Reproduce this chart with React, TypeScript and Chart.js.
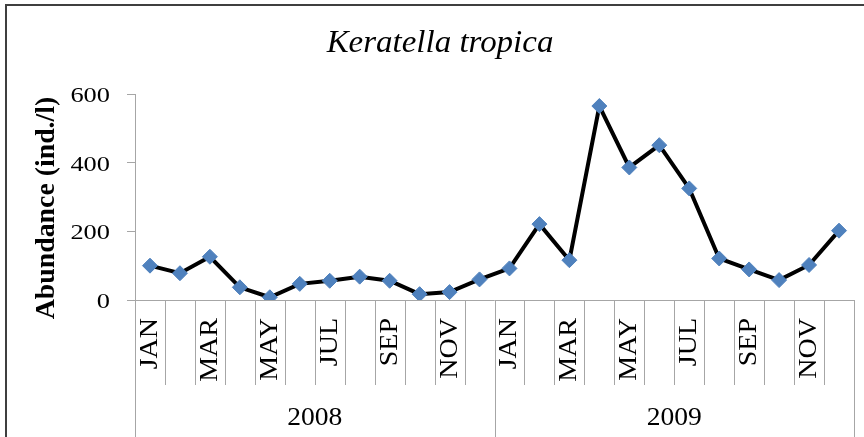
import React, { useEffect, useRef } from "react";
import { Chart, registerables } from "chart.js";

Chart.register(...registerables);

const years = ["2008", "2009"];
const monthTickLabels = ["JAN", "", "MAR", "", "MAY", "", "JUL", "", "SEP", "", "NOV", ""];
const values2008 = [100, 78, 126, 37, 8, 47, 56, 68, 56, 17, 23, 60];
const values2009 = [92, 221, 116, 565, 386, 451, 325, 121, 89, 58, 102, 202];
const yTicks = [0, 200, 400, 600];
const titleText = "Keratella tropica";
const yTitleText = "Abundance (ind./l)";

const categories: string[] = [];
years.forEach((y) => monthTickLabels.forEach((_, i) => categories.push(`${y}-${i + 1}`)));
const values = [...values2008, ...values2009];

const SERIF = '"Liberation Serif", "Times New Roman", serif';

function drawStretched(
  ctx: CanvasRenderingContext2D,
  text: string,
  x: number,
  y: number,
  rot: number,
  font: string,
  sx: number,
  align: CanvasTextAlign,
  baseline: CanvasTextBaseline
) {
  ctx.save();
  ctx.translate(x, y);
  ctx.rotate(rot);
  ctx.scale(sx, 1);
  ctx.font = font;
  ctx.textAlign = align;
  ctx.textBaseline = baseline;
  ctx.fillStyle = "#000";
  ctx.fillText(text, 0, 0);
  ctx.restore();
}

const decorPlugin = {
  id: "decor",
  afterDraw(chart: any) {
    const ctx: CanvasRenderingContext2D = chart.ctx;
    const xs = chart.scales.x;
    const ys = chart.scales.y;
    const area = chart.chartArea;
    const H = chart.height;
    const W = chart.width;
    const y0 = ys.getPixelForValue(0);

    // outer border
    ctx.save();
    ctx.strokeStyle = "#3f3f3f";
    ctx.lineWidth = 2;
    ctx.beginPath();
    ctx.moveTo(6, H);
    ctx.lineTo(6, 5);
    ctx.lineTo(W, 5);
    ctx.stroke();
    ctx.restore();

    // x axis line and category separators
    ctx.save();
    ctx.strokeStyle = "#a6a6a6";
    ctx.lineWidth = 1;
    ctx.beginPath();
    ctx.moveTo(area.left, y0 + 0.5);
    ctx.lineTo(area.right, y0 + 0.5);
    ctx.stroke();
    const n = categories.length;
    const per = monthTickLabels.length;
    for (let k = 0; k <= n; k++) {
      const x = Math.round(xs.getPixelForValue(k - 0.5)) + 0.5;
      const bottom = k % per === 0 ? H : y0 + 85;
      ctx.beginPath();
      ctx.moveTo(x, y0);
      ctx.lineTo(x, bottom);
      ctx.stroke();
    }
    ctx.restore();

    // month labels
    for (let i = 0; i < n; i++) {
      const lab = monthTickLabels[i % per];
      if (!lab) continue;
      const cx = xs.getPixelForValue(i);
      drawStretched(ctx, lab, cx + 7, y0 + 18, -Math.PI / 2, `25px ${SERIF}`, 1.12, "right", "alphabetic");
    }

    // year labels
    years.forEach((yr, j) => {
      const a = xs.getPixelForValue(j * per - 0.5);
      const b = xs.getPixelForValue((j + 1) * per - 0.5);
      drawStretched(ctx, yr, (a + b) / 2, H - 12, 0, `26px ${SERIF}`, 1.06, "center", "alphabetic");
    });

    // y tick labels
    yTicks.forEach((v) => {
      const y = ys.getPixelForValue(v);
      drawStretched(ctx, String(v), 110, y + 8, 0, `22px ${SERIF}`, 1.2, "right", "alphabetic");
    });

    // y title
    drawStretched(ctx, yTitleText, 47, 208, -Math.PI / 2, `bold 27px ${SERIF}`, 1.03, "center", "middle");

    // chart title
    drawStretched(ctx, titleText, 440, 52, 0, `italic 32px ${SERIF}`, 1.03, "center", "alphabetic");
  },
};

export default function App() {
  const ref = useRef<HTMLCanvasElement>(null);
  useEffect(() => {
    if (!ref.current) return;
    const chart = new Chart(ref.current, {
      type: "line",
      data: {
        labels: categories,
        datasets: [
          {
            data: values,
            borderColor: "#000000",
            borderWidth: 4,
            pointStyle: "rectRot",
            pointRadius: 7.5,
            pointHoverRadius: 7.5,
            pointBackgroundColor: "#4f81bd",
            pointBorderColor: "#4f81bd",
            pointBorderWidth: 1,
            tension: 0,
          },
        ],
      },
      options: {
        animation: false,
        responsive: false,
        maintainAspectRatio: false,
        layout: { padding: { top: 94, right: 10, bottom: 137, left: 0 } },
        plugins: { legend: { display: false }, tooltip: { enabled: false }, title: { display: false } },
        scales: {
          x: { type: "category", offset: true, display: false },
          y: {
            min: 0,
            max: 600,
            afterBuildTicks: (s: any) => {
              s.ticks = yTicks.map((v) => ({ value: v }));
            },
            afterFit: (s: any) => {
              s.width = 135;
            },
            ticks: { display: false },
            grid: { drawOnChartArea: false, tickLength: 8, color: "#a6a6a6" },
            border: { display: true, color: "#a6a6a6" },
          },
        },
      },
      plugins: [decorPlugin],
    });
    return () => chart.destroy();
  }, []);
  return (
    <div style={{ position: "fixed", left: 0, top: 0, width: 864, height: 437, background: "#fff" }}>
      <canvas ref={ref} width={864} height={437} style={{ width: 864, height: 437 }} />
    </div>
  );
}
